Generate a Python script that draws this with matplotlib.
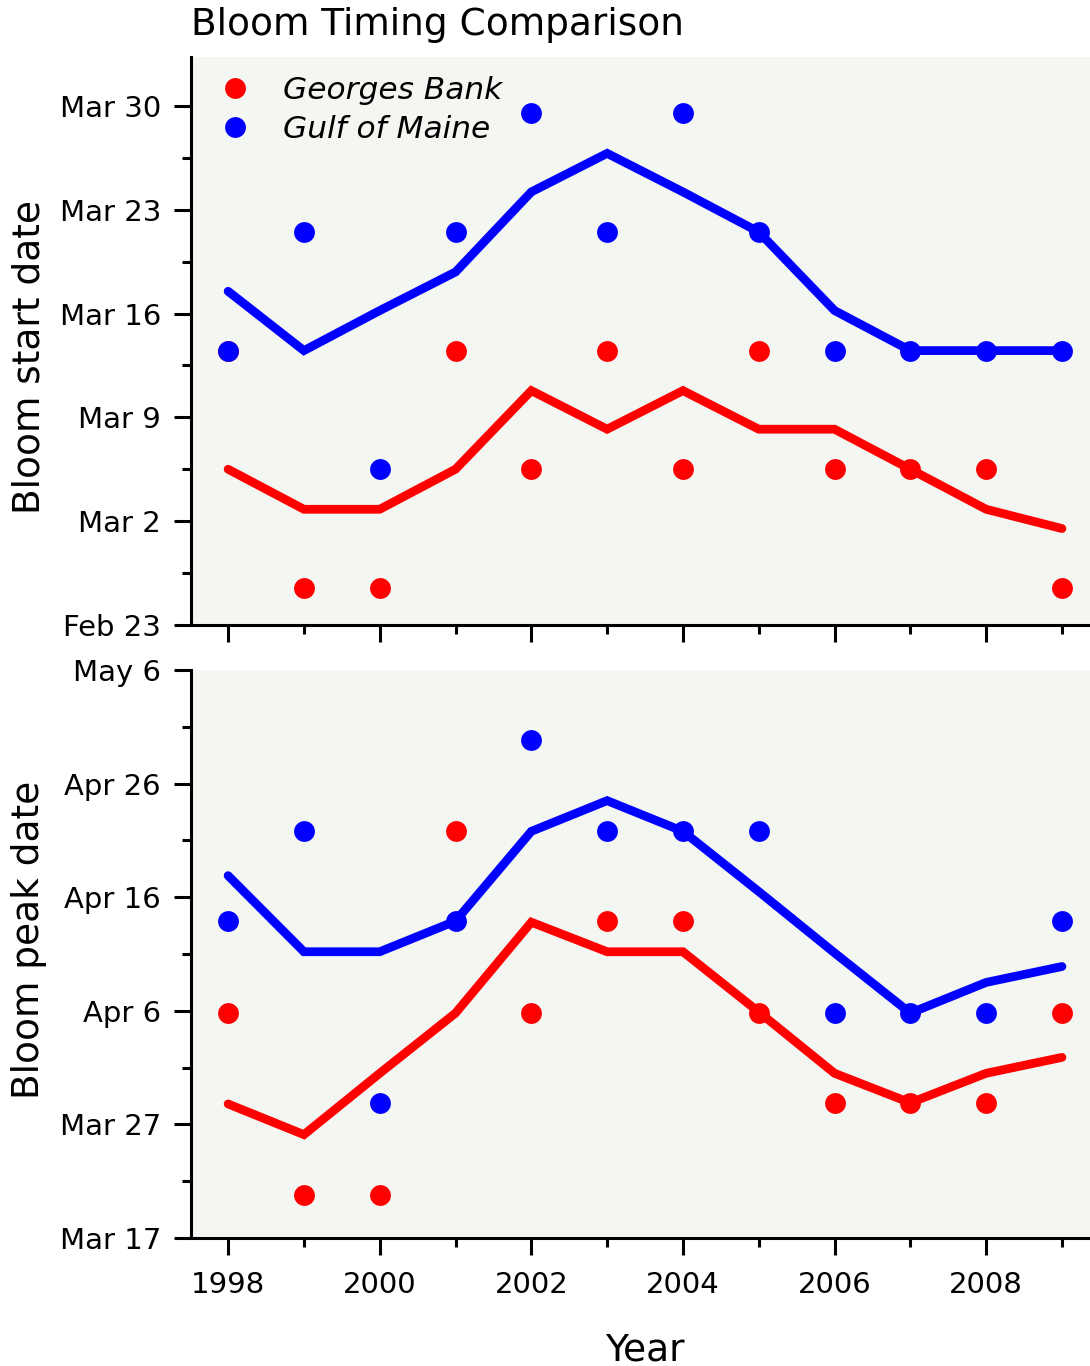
import matplotlib
matplotlib.use("Agg")
import matplotlib.pyplot as plt
from matplotlib.ticker import MultipleLocator, FixedLocator
from matplotlib.lines import Line2D

years = [1998, 1999, 2000, 2001, 2002, 2003, 2004, 2005, 2006, 2007, 2008, 2009]

# Top panel: bloom start, days after Feb 23
start_gb = [18.5, 2.5, 2.5, 18.5, 10.5, 18.5, 10.5, 18.5, 10.5, 10.5, 10.5, 2.5]
start_gom = [18.5, 26.5, 10.5, 26.5, 34.5, 26.5, 34.5, 26.5, 18.5, 18.5, 18.5, 18.5]
start_gb_line = [10.5, 7.8, 7.8, 10.5, 15.8, 13.2, 15.8, 13.2, 13.2, 10.5, 7.8, 6.5]
start_gom_line = [22.5, 18.5, 21.2, 23.8, 29.2, 31.8, 29.2, 26.5, 21.2, 18.5, 18.5, 18.5]
start_ticks = [0, 7, 14, 21, 28, 35]
start_labels = ["Feb 23", "Mar 2", "Mar 9", "Mar 16", "Mar 23", "Mar 30"]

# Bottom panel: bloom peak, days after Mar 17
peak_gb = [19.8, 3.8, 3.8, 35.8, 19.8, 27.9, 27.9, 19.8, 11.9, 11.9, 11.9, 19.8]
peak_gom = [27.9, 35.8, 11.9, 27.9, 43.8, 35.8, 35.8, 35.8, 19.8, 19.8, 19.8, 27.9]
peak_gb_line = [11.8, 9.1, 14.5, 19.8, 27.8, 25.2, 25.2, 19.9, 14.5, 11.9, 14.5, 15.9]
peak_gom_line = [31.9, 25.2, 25.2, 27.9, 35.8, 38.5, 35.8, 30.5, 25.1, 19.8, 22.5, 23.9]
peak_ticks = [0, 10, 20, 30, 40, 50]
peak_labels = ["Mar 17", "Mar 27", "Apr 6", "Apr 16", "Apr 26", "May 6"]

x_ticks = [1998, 2000, 2002, 2004, 2006, 2008]
x_labels = ["1998", "2000", "2002", "2004", "2006", "2008"]

RED = "#ff0000"
BLUE = "#0000ff"
BG = "#f4f6f2"
FONT = "DejaVu Sans"

fig = plt.figure(figsize=(10.9, 13.66), dpi=100)
ax1 = fig.add_axes([0.1752, 0.5425, 0.8248, 0.4158])
ax2 = fig.add_axes([0.1752, 0.0937, 0.8248, 0.4158])

tick_font = {"family": FONT, "size": 21}

def style(ax, yticks, ylabels, ylim, minor_step, ylabel, label_y):
    ax.set_facecolor(BG)
    for s in ["top", "right"]:
        ax.spines[s].set_visible(False)
    for s in ["left", "bottom"]:
        ax.spines[s].set_linewidth(2.2)
    ax.set_xlim(1997.51, 2009.37)
    ax.set_ylim(*ylim)
    ax.yaxis.set_major_locator(FixedLocator(yticks))
    ax.set_yticklabels(ylabels, **tick_font)
    ax.yaxis.set_minor_locator(MultipleLocator(minor_step))
    ax.xaxis.set_major_locator(MultipleLocator(2))
    ax.xaxis.set_minor_locator(MultipleLocator(1))
    ax.tick_params(which="major", length=12.5, width=2.2, direction="out")
    ax.tick_params(which="minor", length=6.5, width=2.2, direction="out")
    ax.tick_params(axis="y", which="major", pad=9)
    ax.tick_params(axis="x", which="major", pad=11)
    ax.set_ylabel(ylabel, family=FONT, fontsize=27)
    ax.yaxis.label.set_va("center")
    ax.yaxis.set_label_coords(-0.180, label_y)

def draw(ax, gb, gom, gbl, goml):
    ax.plot(years, gb, "o", color=RED, markersize=15, markeredgewidth=0, zorder=3)
    ax.plot(years, gom, "o", color=BLUE, markersize=15, markeredgewidth=0, zorder=3)
    ax.plot(years, gbl, "-", color=RED, lw=6.3, zorder=4, solid_capstyle="round",
            solid_joinstyle="miter")
    ax.plot(years, goml, "-", color=BLUE, lw=6.3, zorder=4, solid_capstyle="round",
            solid_joinstyle="miter")

draw(ax1, start_gb, start_gom, start_gb_line, start_gom_line)
draw(ax2, peak_gb, peak_gom, peak_gb_line, peak_gom_line)

style(ax1, start_ticks, start_labels, (0, 38.3), 3.5, "Bloom start date", 0.472)
style(ax2, peak_ticks, peak_labels, (0, 50), 5, "Bloom peak date", 0.525)

ax1.set_xticklabels([])
ax2.set_xticks(x_ticks)
ax2.set_xticklabels(x_labels, **tick_font)
ax2.set_xlabel("Year", family=FONT, fontsize=27)
ax2.xaxis.label.set_va("center")
ax2.xaxis.set_label_coords(0.505, -0.198)

fig.text(0.1752, 0.9817, "Bloom Timing Comparison", family=FONT,
         fontsize=27, ha="left", va="center")

handles = [Line2D([], [], ls="none", marker="o", color=RED, markersize=15, markeredgewidth=0),
           Line2D([], [], ls="none", marker="o", color=BLUE, markersize=15, markeredgewidth=0)]
ax1.legend(handles, ["Georges Bank", "Gulf of Maine"], loc="upper left",
           frameon=False, prop={"family": FONT, "style": "italic", "size": 22.5},
           handlelength=2.0, handletextpad=0.55, labelspacing=0.34,
           borderaxespad=0.0, bbox_to_anchor=(0.0, 0.989))

fig.savefig("out.png", dpi=100, facecolor="white")
